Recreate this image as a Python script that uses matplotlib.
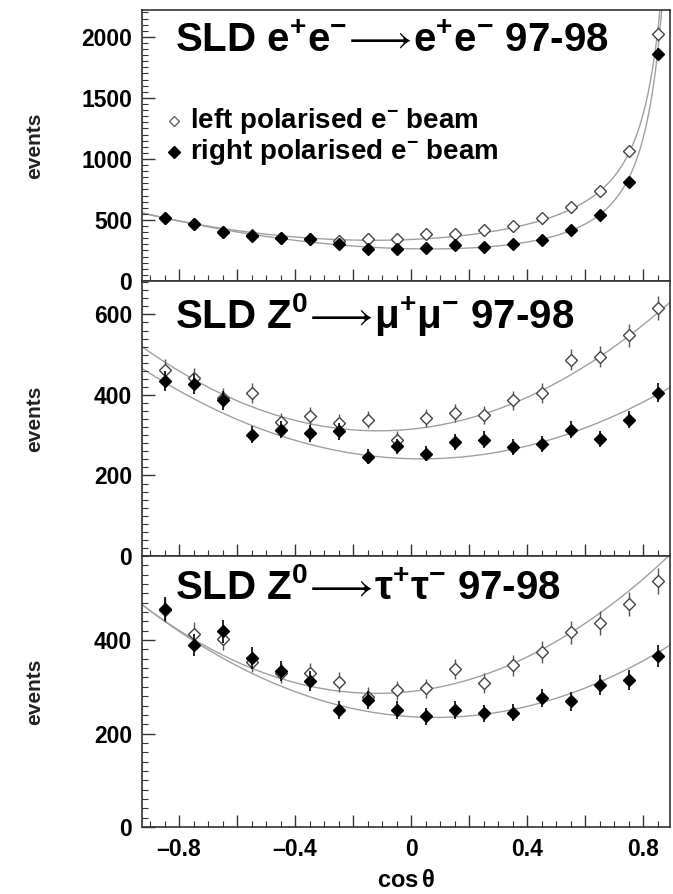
import numpy as np
import matplotlib
matplotlib.use("Agg")
import matplotlib.pyplot as plt
from matplotlib.ticker import MultipleLocator, FuncFormatter

plt.rcParams['font.family'] = ['Liberation Sans', 'DejaVu Sans']
plt.rcParams['mathtext.fontset'] = 'custom'
plt.rcParams['mathtext.rm'] = 'Liberation Sans:bold'
plt.rcParams['mathtext.bf'] = 'Liberation Sans:bold'
plt.rcParams['mathtext.it'] = 'Liberation Sans:bold'

# bin centres in cos(theta)
cos_bins = [-0.85, -0.75, -0.65, -0.55, -0.45, -0.35, -0.25, -0.15, -0.05,
            0.05, 0.15, 0.25, 0.35, 0.45, 0.55, 0.65, 0.75, 0.85]

# e+e- -> e+e-
ee_left = [516, 470, 402, 380, 350, 340, 326, 340, 345,
           386, 386, 421, 454, 516, 606, 734, 1068, 2024]
ee_right = [516, 470, 402, 367, 350, 340, 304, 264, 264,
            272, 299, 280, 307, 334, 416, 543, 807, 1861]

# Z0 -> mu+mu-
mm_left = [463, 442, 393, 405, 334, 347, 330, 339, 289,
           343, 355, 351, 387, 405, 488, 495, 548, 617]
mm_right = [434, 428, 387, 301, 314, 305, 310, 247, 272,
            254, 283, 289, 270, 279, 314, 290, 339, 406]

# Z0 -> tau+tau-
tt_left = [465, 414, 403, 354, 329, 329, 311, 279, 293,
           297, 338, 308, 346, 375, 417, 437, 477, 527]
tt_right = [467, 389, 419, 362, 334, 312, 251, 272, 251,
            237, 250, 243, 245, 276, 269, 304, 315, 366]

# fit parameters: a + b c + e c^2 + t / (1 - c)^2
ee_fit_left = (307, 36, 319, 33)
ee_fit_right = (229, -117, 246, 35)
# fit parameters: A (1 + c^2) + B c
mm_fit_left = (315, 71.5)
mm_fit_right = (241.6, -17.6)
tt_fit_left = (290, 68.7)
tt_fit_right = (236.1, -39.5)

W, H = 673, 894
fig = plt.figure(figsize=(W / 100, H / 100), dpi=100)

X0, X1 = 142, 670
XLIM = (-0.928, 0.893)


def make_axes(top_px, bot_px):
    return fig.add_axes([X0 / W, 1 - bot_px / H, (X1 - X0) / W, (bot_px - top_px) / H])


ax1 = make_axes(10, 281)
ax2 = make_axes(281, 556)
ax3 = make_axes(556, 827)

c = np.linspace(XLIM[0], XLIM[1], 500)
curve_kw = dict(color='#a0a0a0', lw=1.0, zorder=1)


def ee_curve(p):
    a, b, e, t = p
    return a + b * c + e * c ** 2 + t / (1 - c) ** 2


def par_curve(p):
    A, B = p
    return A * (1 + c ** 2) + B * c


def draw_points(ax, left, right, ms=6):
    left = np.array(left, float)
    right = np.array(right, float)
    ax.errorbar(cos_bins, left, yerr=1.2 * np.sqrt(left), fmt='D', ms=ms,
                mfc='white', mec='#444444', mew=1.0, ecolor='#555555',
                elinewidth=1.0, capsize=0, zorder=3)
    ax.errorbar(cos_bins, right, yerr=1.2 * np.sqrt(right), fmt='D', ms=ms,
                mfc='black', mec='black', ecolor='black',
                elinewidth=1.2, capsize=0, zorder=4)


# top panel
ax1.plot(c, ee_curve(ee_fit_left), **curve_kw)
ax1.plot(c, ee_curve(ee_fit_right), **curve_kw)
draw_points(ax1, ee_left, ee_right, ms=6)
ax1.set_ylim(0, 2220)
ax1.yaxis.set_major_locator(MultipleLocator(500))
ax1.yaxis.set_minor_locator(MultipleLocator(50))

# middle panel
ax2.plot(c, par_curve(mm_fit_left), **curve_kw)
ax2.plot(c, par_curve(mm_fit_right), **curve_kw)
draw_points(ax2, mm_left, mm_right)
ax2.set_ylim(0, 683)
ax2.yaxis.set_major_locator(MultipleLocator(200))
ax2.yaxis.set_minor_locator(MultipleLocator(20))

# bottom panel
ax3.plot(c, par_curve(tt_fit_left), **curve_kw)
ax3.plot(c, par_curve(tt_fit_right), **curve_kw)
draw_points(ax3, tt_left, tt_right)
ax3.set_ylim(0, 580)
ax3.yaxis.set_major_locator(MultipleLocator(200))
ax3.yaxis.set_minor_locator(MultipleLocator(20))


def xfmt(v, pos):
    if abs(round(v / 0.4) * 0.4 - v) > 1e-6:
        return ''
    if abs(v) < 1e-9:
        return '0'
    return ('\u2013' if v < 0 else '') + f'{abs(v):.1f}'


for ax in (ax1, ax2, ax3):
    ax.set_xlim(*XLIM)
    ax.xaxis.set_major_locator(MultipleLocator(0.2))
    ax.xaxis.set_minor_locator(MultipleLocator(0.05))
    ax.tick_params(which='both', direction='in', top=False, right=False,
                   colors='#333333', labelcolor='black')
    ax.tick_params(which='major', length=9, width=1.0)
    ax.tick_params(which='minor', length=4, width=0.8)
    ax.tick_params(axis='y', labelsize=16.5, pad=7)
    for s in ax.spines.values():
        s.set_linewidth(1.2)
        s.set_color('#333333')
    for lab in ax.get_yticklabels():
        lab.set_fontweight('bold')
    ax.set_ylabel('events', fontsize=15, fontweight='bold', color='#222222')
    ax.yaxis.set_label_coords(-0.185, 0.5)

ax1.tick_params(axis='x', labelbottom=False)
ax2.tick_params(axis='x', labelbottom=False)
ax3.xaxis.set_major_formatter(FuncFormatter(xfmt))
ax3.tick_params(axis='x', labelsize=16.5, pad=8)
for lab in ax3.get_xticklabels():
    lab.set_fontweight('bold')
ax3.set_xlabel(r'cos$\,\theta$', fontsize=17, fontweight='bold', labelpad=6)

title_kw = dict(fontsize=29, fontweight='bold', ha='left', va='center')
arrow = r'$\!\longrightarrow\!$'
ax1.text(0.062, 0.885, r'SLD e$^{+}$e$^{-}$' + arrow + r'e$^{+}$e$^{-}$ 97-98',
         transform=ax1.transAxes, **title_kw)
ax2.text(0.062, 0.88, r'SLD Z$^{0}$' + arrow + r'μ$^{+}$μ$^{-}$ 97-98',
         transform=ax2.transAxes, **title_kw)
ax3.text(0.062, 0.885, r'SLD Z$^{0}$' + arrow + r'τ$^{+}$τ$^{-}$ 97-98',
         transform=ax3.transAxes, **title_kw)

# legend in the top panel
ax1.plot([0.06], [0.592], 'D', ms=5, mfc='white', mec='#666666',
         transform=ax1.transAxes)
ax1.plot([0.06], [0.475], 'D', ms=6, mfc='black', mec='black',
         transform=ax1.transAxes)
ax1.text(0.09, 0.592, r'left polarised e$^{-}$ beam', transform=ax1.transAxes,
         fontsize=20, fontweight='bold', va='center')
ax1.text(0.09, 0.475, r'right polarised e$^{-}$ beam', transform=ax1.transAxes,
         fontsize=20, fontweight='bold', va='center')

fig.savefig('out.png', dpi=100)
